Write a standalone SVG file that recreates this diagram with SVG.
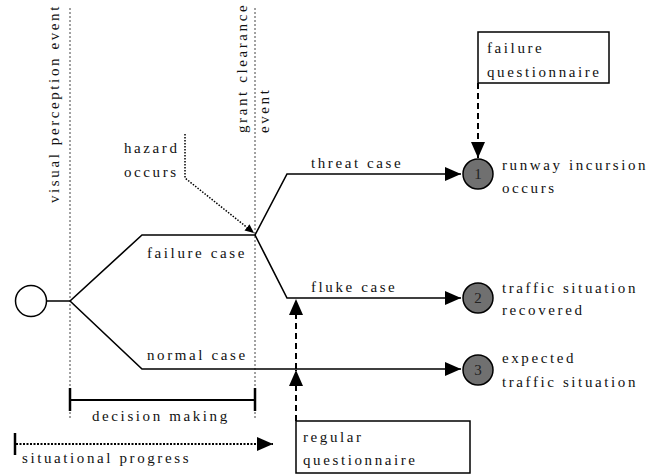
<svg xmlns="http://www.w3.org/2000/svg" width="665" height="475" viewBox="0 0 665 475">
<style>
text{font-family:"Liberation Serif","Times New Roman",serif;font-size:15px;letter-spacing:2.6px;fill:#111}
.ln{fill:none;stroke:#000;stroke-width:1.6}
.ev{fill:none;stroke:#444;stroke-width:1;stroke-dasharray:2,2}
.dash{fill:none;stroke:#000;stroke-width:2;stroke-dasharray:6,4}
.dot{fill:none;stroke:#000;stroke-width:1.5;stroke-dasharray:1.5,1.5}
.box{fill:#fff;stroke:#000;stroke-width:1.5}
.end{fill:#707070;stroke:#000;stroke-width:1.5}
.num{font-size:15px;letter-spacing:0;fill:#222;text-anchor:middle}
</style>
<defs>
<marker id="ah" markerUnits="userSpaceOnUse" markerWidth="17" markerHeight="15" refX="16" refY="7" orient="auto"><path d="M0,0 L16,7 L0,14 z" fill="#000"/></marker>
<marker id="ahs" markerUnits="userSpaceOnUse" markerWidth="10" markerHeight="9" refX="9" refY="4" orient="auto"><path d="M0,0 L9,4 L0,8 z" fill="#000"/></marker>
</defs>
<g id="events">
<line class="ev" x1="70" y1="8" x2="70" y2="420"/>
<line class="ev" x1="255" y1="8" x2="255" y2="420"/>
<text transform="translate(59,203) rotate(-90)">visual perception event</text>
<text transform="translate(247,133) rotate(-90)">grant clearance</text>
<text transform="translate(269,133) rotate(-90)">event</text>
</g>
<g id="connectors">
<path class="ln" d="M46,301 L70,301 L142,235 L255,235 L287,174 L461,174" marker-end="url(#ah)"/>
<path class="ln" d="M255,235 L287,298 L461,298" marker-end="url(#ah)"/>
<path class="ln" d="M70,301 L142,369 L461,369" marker-end="url(#ah)"/>
<path class="dash" d="M478,83 L478,158" marker-end="url(#ah)"/>
<path class="dash" d="M296,421 L296,370" marker-end="url(#ah)"/>
<path class="dash" d="M296,369 L296,299" marker-end="url(#ah)"/>
<path class="dot" d="M185,134 L185,178 L254,233" marker-end="url(#ahs)"/>
</g>
<g id="start"><circle cx="31" cy="301" r="15.5" fill="#fff" stroke="#000" stroke-width="1.5"/></g>
<g id="labels">
<text x="311" y="168">threat case</text>
<text x="311" y="292">fluke case</text>
<text x="147" y="258">failure case</text>
<text x="147" y="360">normal case</text>
<text x="124" y="153">hazard</text>
<text x="124" y="177">occurs</text>
</g>
<g id="end1"><circle class="end" cx="478" cy="174" r="15"/><text class="num" x="478" y="179">1</text>
<text x="502" y="170">runway incursion</text><text x="502" y="193">occurs</text></g>
<g id="end2"><circle class="end" cx="478" cy="298" r="15"/><text class="num" x="478" y="303">2</text>
<text x="502" y="293">traffic situation</text><text x="502" y="315">recovered</text></g>
<g id="end3"><circle class="end" cx="478" cy="370" r="15"/><text class="num" x="478" y="375">3</text>
<text x="502" y="363">expected</text><text x="502" y="387">traffic situation</text></g>
<g id="failure-questionnaire"><rect class="box" x="478" y="32" width="131" height="51"/>
<text x="487" y="53">failure</text><text x="487" y="77">questionnaire</text></g>
<g id="regular-questionnaire"><rect class="box" x="296" y="421" width="174" height="52"/>
<text x="303" y="442">regular</text><text x="303" y="465">questionnaire</text></g>
<g id="decision-making">
<line x1="70" y1="400" x2="255" y2="400" stroke="#000" stroke-width="2"/>
<line x1="70" y1="388" x2="70" y2="411" stroke="#000" stroke-width="2.5"/>
<line x1="255" y1="388" x2="255" y2="411" stroke="#000" stroke-width="2.5"/>
<text x="92" y="421">decision making</text>
</g>
<g id="situational-progress">
<line x1="15" y1="433" x2="15" y2="455" stroke="#000" stroke-width="2.5"/>
<path d="M16,444 L273,444" fill="none" stroke="#000" stroke-width="2" stroke-dasharray="2,1.5" marker-end="url(#ah)"/>
<text x="22" y="463">situational progress</text>
</g>
</svg>
